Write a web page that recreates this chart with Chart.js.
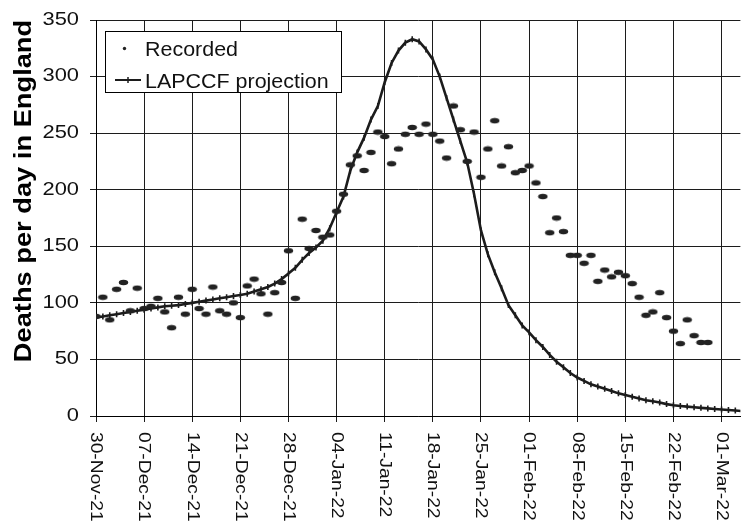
<!DOCTYPE html>
<html>
<head>
<meta charset="utf-8">
<script src="https://cdn.jsdelivr.net/npm/chart.js@4"></script>
<style>
  html, body { margin: 0; padding: 0; background: #fff; overflow: hidden; }
  #wrap { width: 746px; height: 523px; position: relative; }
</style>
</head>
<body>
<div id="wrap"><canvas id="c" width="746" height="523"></canvas></div>
<script>
// Weekly date labels along the x axis (one every 7 days from 30-Nov-21)
const xTickLabels = ['30-Nov-21', '07-Dec-21', '14-Dec-21', '21-Dec-21', '28-Dec-21',
  '04-Jan-22', '11-Jan-22', '18-Jan-22', '25-Jan-22', '01-Feb-22', '08-Feb-22',
  '15-Feb-22', '22-Feb-22', '01-Mar-22'];
const yTickValues = [0, 50, 100, 150, 200, 250, 300, 350];

// Recorded deaths per day, starting 30-Nov-21
const recorded = [
  88, 105, 85, 112, 118, 93, 113, 95, 97, 104,
  92, 78, 105, 90, 112, 95, 90, 114, 93, 90,
  100, 87, 115, 121, 108, 90, 109, 118, 146, 104,
  174, 148, 164, 158, 160, 181, 196, 222, 230, 217,
  233, 251, 247, 223, 236, 249, 255, 249, 258, 249,
  243, 228, 274, 253, 225, 251, 211, 236, 261, 221,
  238, 215, 217, 221, 206, 194, 162, 175, 163, 142,
  142, 135, 142, 119, 129, 123, 127, 124, 117, 105,
  89, 92, 109, 87, 75, 64, 85, 71, 65, 65
];

// LAPCCF projection, deaths per day, starting 30-Nov-21
const projection = [
  87, 88, 89, 90, 91, 92, 93, 94, 95, 96,
  97, 97.5, 98, 99, 100, 101, 102, 103, 104, 105,
  106, 107, 108, 110, 112, 114, 117, 121, 126, 131,
  138, 144, 149, 155, 166, 180, 194, 217, 233, 246,
  262, 274, 295, 312, 323, 330, 333, 331, 324, 315,
  300, 281, 262, 243, 224, 196, 164, 143, 127, 113,
  98, 89, 80, 74, 67, 61, 54, 48, 43, 38,
  34, 31, 28, 26, 24, 22, 20, 18.5, 17, 15.5,
  14, 13, 12, 10.5, 9.5, 8.9, 8.3, 7.7, 7.2, 6.7,
  6.2, 5.7, 5.3, 4.8, 4.4
];

const INK = '#1c1c1c';

// Small horizontal ellipse used as the "Recorded" marker
function makeBlob() {
  const c = document.createElement('canvas');
  c.width = 11; c.height = 7;
  const g = c.getContext('2d');
  g.fillStyle = '#222';
  g.beginPath();
  g.ellipse(5.5, 3.5, 4.7, 2.8, 0, 0, Math.PI * 2);
  g.fill();
  return c;
}

// Draw text widened along its own writing direction
function stretchedText(ctx, text, x, y, o) {
  ctx.save();
  ctx.translate(x, y);
  ctx.rotate(o.rotation || 0);
  ctx.scale(o.stretch || 1, 1);
  ctx.font = o.font;
  ctx.fillStyle = o.color || '#000';
  ctx.textAlign = o.align || 'left';
  ctx.textBaseline = o.baseline || 'alphabetic';
  ctx.fillText(text, 0, 0);
  ctx.restore();
}

const textPlugin = {
  id: 'axisText',
  afterDraw(chart) {
    const ctx = chart.ctx;
    const xs = chart.scales.x, ys = chart.scales.y;

    // y tick labels
    yTickValues.forEach(v => {
      stretchedText(ctx, String(v), 79, ys.getPixelForValue(v), {
        font: '17.5px "Liberation Sans", Arial, sans-serif', stretch: 1.25,
        align: 'right', baseline: 'middle', color: '#111'
      });
    });

    // x tick labels, reading top to bottom
    xTickLabels.forEach((lab, i) => {
      stretchedText(ctx, lab, xs.getPixelForValue(i * 7), 432, {
        font: '17px "Liberation Sans", Arial, sans-serif', stretch: 1.13,
        rotation: Math.PI / 2, align: 'left', baseline: 'middle', color: '#111'
      });
    });

    // y axis title
    stretchedText(ctx, 'Deaths per day in England', 31, 191, {
      font: 'bold 23.5px "Liberation Sans", Arial, sans-serif', stretch: 1.16,
      rotation: -Math.PI / 2, align: 'center', baseline: 'alphabetic'
    });

    // legend box
    ctx.save();
    ctx.fillStyle = '#fff';
    ctx.fillRect(105.5, 31.5, 236, 61);
    ctx.strokeStyle = '#000';
    ctx.lineWidth = 1;
    ctx.strokeRect(105.5, 31.5, 236, 61);
    // Recorded marker
    ctx.fillStyle = '#222';
    ctx.beginPath();
    ctx.arc(124.5, 48.5, 1.7, 0, Math.PI * 2);
    ctx.fill();
    // projection line sample
    ctx.strokeStyle = INK;
    ctx.lineWidth = 2;
    ctx.beginPath();
    ctx.moveTo(115, 80); ctx.lineTo(141, 80);
    ctx.stroke();
    ctx.lineWidth = 1.5;
    ctx.beginPath();
    ctx.moveTo(128, 77); ctx.lineTo(128, 83);
    ctx.stroke();
    ctx.restore();

    stretchedText(ctx, 'Recorded', 145, 56, {
      font: '19.5px "Liberation Sans", Arial, sans-serif', stretch: 1.1, color: '#111'
    });
    stretchedText(ctx, 'LAPCCF projection', 145, 88, {
      font: '19.5px "Liberation Sans", Arial, sans-serif', stretch: 1.1, color: '#111'
    });
  }
};

const whiteBg = {
  id: 'whiteBg',
  beforeDraw(chart) {
    const c = chart.ctx;
    c.save();
    c.fillStyle = '#fff';
    c.fillRect(0, 0, chart.width, chart.height);
    c.restore();
  }
};

const DAYS_SHOWN = 93.74;

new Chart(document.getElementById('c'), {
  type: 'scatter',
  data: {
    datasets: [
      {
        label: 'Recorded',
        data: recorded.map((v, i) => ({ x: i, y: v })),
        showLine: false,
        pointStyle: makeBlob(),
        pointRadius: 4,
        pointHoverRadius: 4
      },
      {
        label: 'LAPCCF projection',
        data: projection.map((v, i) => ({ x: i, y: v })),
        showLine: true,
        borderColor: INK,
        borderWidth: 2.6,
        tension: 0,
        pointStyle: 'line',
        rotation: 90,
        pointRadius: 3,
        pointBorderWidth: 1.6,
        pointBorderColor: INK,
        pointBackgroundColor: INK
      }
    ]
  },
  options: {
    responsive: false,
    animation: false,
    devicePixelRatio: 1,
    layout: { padding: { left: 90, top: 20, right: 0, bottom: 101 } },
    plugins: {
      legend: { display: false },
      tooltip: { enabled: false },
      title: { display: false }
    },
    scales: {
      x: {
        type: 'linear',
        min: 0,
        max: DAYS_SHOWN,
        afterBuildTicks(scale) {
          scale.ticks = xTickLabels.map((_, i) => ({ value: i * 7 }));
        },
        ticks: { display: false },
        grid: { color: INK, lineWidth: 1, drawTicks: true, tickLength: 6, tickColor: INK },
        border: { display: true, color: '#000', width: 1 }
      },
      y: {
        type: 'linear',
        min: 0,
        max: 350,
        afterBuildTicks(scale) {
          scale.ticks = yTickValues.map(v => ({ value: v }));
        },
        ticks: { display: false },
        grid: { color: INK, lineWidth: 1, drawTicks: true, tickLength: 6, tickColor: INK },
        border: { display: true, color: '#000', width: 1 }
      }
    }
  },
  plugins: [whiteBg, textPlugin]
});
</script>
</body>
</html>
